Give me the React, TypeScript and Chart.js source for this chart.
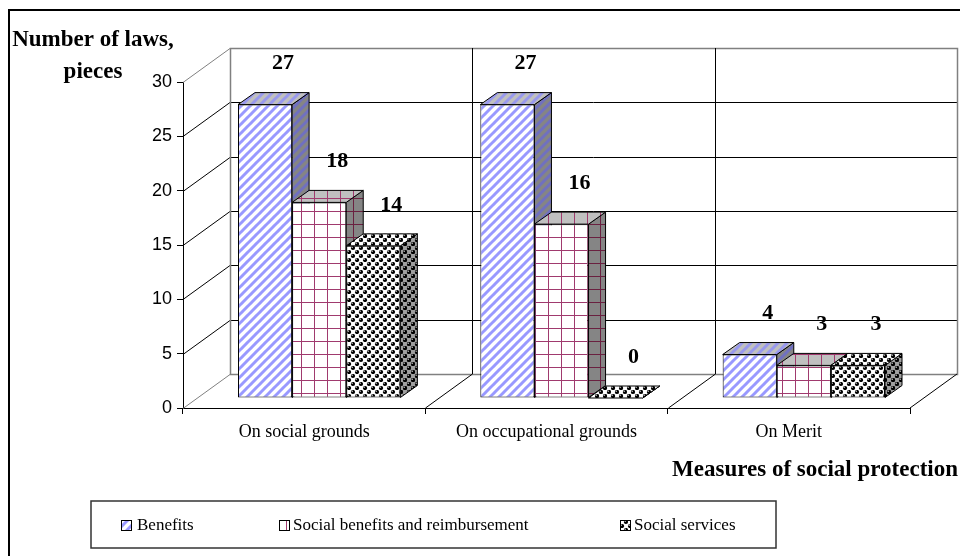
import React, { useEffect, useRef } from 'react';
import { Chart, registerables } from 'chart.js';
Chart.register(...registerables);

const categories = ['On social grounds', 'On occupational grounds', 'On Merit'];
const seriesNames = ['Benefits', 'Social benefits and reimbursement', 'Social services'];
const benefits = [27, 27, 4];
const socialBenefits = [18, 16, 3];
const socialServices = [14, 0, 3];
const yTickValues = [0, 5, 10, 15, 20, 25, 30];
const yTitleLines = ['Number of laws,', 'pieces'];
const xTitle = 'Measures of social protection';

const SERIF = '"Liberation Serif", "Times New Roman", serif';
const SANS = '"Liberation Sans", Arial, sans-serif';

const WALL_DX = 47, WALL_DY = -34;
const BAR_DX = 15, BAR_DY = -10;
const DEP_DX = 17, DEP_DY = -12;

function tile(size: number, draw: (g: CanvasRenderingContext2D, s: number) => void) {
  const c = document.createElement('canvas');
  c.width = size; c.height = size;
  const g = c.getContext('2d')!;
  draw(g, size);
  return c;
}

function stripePattern(ctx: CanvasRenderingContext2D, bg: string, fg: string) {
  const t = tile(9, (g, s) => {
    g.fillStyle = bg; g.fillRect(0, 0, s, s);
    g.strokeStyle = fg; g.lineWidth = 3;
    for (let k = -1; k <= 1; k++) {
      g.beginPath(); g.moveTo(k * s - 1, s + 1); g.lineTo(k * s + s + 1, -1); g.stroke();
    }
  });
  return ctx.createPattern(t, 'repeat')!;
}

function gridPattern(ctx: CanvasRenderingContext2D, bg: string, fg: string) {
  const t = tile(13, (g, s) => {
    g.fillStyle = bg; g.fillRect(0, 0, s, s);
    g.fillStyle = fg; g.fillRect(0, 0, s, 1); g.fillRect(0, 0, 1, s);
  });
  return ctx.createPattern(t, 'repeat')!;
}

function dotPattern(ctx: CanvasRenderingContext2D, bg: string, alt: string) {
  const t = tile(8, (g, s) => {
    g.fillStyle = bg; g.fillRect(0, 0, s, s);
    g.fillStyle = alt; g.fillRect(4, 0, 4, 4); g.fillRect(0, 4, 4, 4);
    const centers: number[][] = [];
    for (let a = -1; a <= 1; a++) for (let b = -1; b <= 1; b++) {
      centers.push([2 + a * s, 2 + b * s]);
      centers.push([6 + a * s, 6 + b * s]);
    }
    for (const [cx, cy] of centers) {
      g.beginPath(); g.arc(cx, cy, 2.1, 0, Math.PI * 2); g.fillStyle = '#000'; g.fill();
      g.beginPath(); g.arc(cx - 0.8, cy - 0.8, 0.7, 0, Math.PI * 2); g.fillStyle = '#ddd'; g.fill();
    }
  });
  return ctx.createPattern(t, 'repeat')!;
}

export default function App() {
  const ref = useRef<HTMLCanvasElement | null>(null);
  useEffect(() => {
    const canvas = ref.current!;
    const ctx = canvas.getContext('2d')!;
    const pats = [
      { front: stripePattern(ctx, '#ffffff', '#9999ff'), side: stripePattern(ctx, '#858585', '#7070c0'), top: stripePattern(ctx, '#c0c0c0', '#9999ee') },
      { front: gridPattern(ctx, '#ffffff', '#a03a6e'), side: gridPattern(ctx, '#858585', '#6a2040'), top: gridPattern(ctx, '#c0c0c0', '#a03a6e') },
      { front: dotPattern(ctx, '#ffffff', '#ffffff'), side: dotPattern(ctx, '#606060', '#a0a0a0'), top: dotPattern(ctx, '#c0c0c0', '#ffffff') },
    ];
    const seriesData = [benefits, socialBenefits, socialServices];

    const line = (x1: number, y1: number, x2: number, y2: number, color: string, w = 1) => {
      ctx.beginPath(); ctx.moveTo(x1, y1); ctx.lineTo(x2, y2);
      ctx.strokeStyle = color; ctx.lineWidth = w; ctx.stroke();
    };

    const scene = {
      id: 'scene3d',
      beforeDatasetsDraw(chart: any) {
        const xs = chart.scales.x, ys = chart.scales.y;
        const L = chart.chartArea.left, R = chart.chartArea.right;
        const B = ys.getPixelForValue(0), T = ys.getPixelForValue(30);
        for (const v of yTickValues) {
          const y = Math.round(ys.getPixelForValue(v)) + 0.5;
          const edge = v === 0 || v === 30;
          line(L, y, L + WALL_DX, y + WALL_DY, edge ? '#808080' : '#000');
          if (!edge) line(L + WALL_DX, y + WALL_DY, R + WALL_DX, y + WALL_DY, '#000');
        }
        ctx.strokeStyle = '#808080'; ctx.lineWidth = 1.5;
        ctx.strokeRect(L + WALL_DX + 0.5, Math.round(T) + WALL_DY + 0.5, R - L, B - T);
        for (let i = 1; i < categories.length; i++) {
          const xb = Math.round((xs.getPixelForValue(i - 1) + xs.getPixelForValue(i)) / 2) + 0.5;
          line(xb + WALL_DX, B + WALL_DY, xb + WALL_DX, T + WALL_DY, '#000');
          line(xb, B, xb + WALL_DX, B + WALL_DY, '#000');
        }
        line(R, B, R + WALL_DX, B + WALL_DY, '#000');

        ctx.save();
        ctx.translate(BAR_DX, BAR_DY);
        for (let d = 0; d < chart.data.datasets.length; d++) {
          const meta = chart.getDatasetMeta(d);
          const p = pats[d];
          for (const el of meta.data) {
            const { x, y, base, width } = el.getProps(['x', 'y', 'base', 'width'], true);
            const x0 = x - width / 2, x1 = x + width / 2;
            ctx.lineWidth = 1; ctx.strokeStyle = '#000';
            ctx.beginPath();
            ctx.moveTo(x1, y); ctx.lineTo(x1 + DEP_DX, y + DEP_DY); ctx.lineTo(x1 + DEP_DX, base + DEP_DY); ctx.lineTo(x1, base); ctx.closePath();
            ctx.fillStyle = p.side; ctx.fill(); ctx.stroke();
            ctx.beginPath();
            ctx.moveTo(x0, y); ctx.lineTo(x0 + DEP_DX, y + DEP_DY); ctx.lineTo(x1 + DEP_DX, y + DEP_DY); ctx.lineTo(x1, y); ctx.closePath();
            ctx.fillStyle = p.top; ctx.fill(); ctx.stroke();
          }
          meta.controller.draw();
        }
        ctx.fillStyle = '#000';
        ctx.font = `bold 22px ${SERIF}`;
        ctx.textAlign = 'center'; ctx.textBaseline = 'middle';
        for (let d = 0; d < chart.data.datasets.length; d++) {
          const meta = chart.getDatasetMeta(d);
          meta.data.forEach((el: any, i: number) => {
            const { x, y } = el.getProps(['x', 'y'], true);
            ctx.fillText(String(seriesData[d][i]), x + 18, y - 41);
          });
        }
        ctx.restore();
        return false;
      },
      afterDraw() {
        ctx.save();
        ctx.strokeStyle = '#000'; ctx.lineWidth = 2;
        ctx.strokeRect(9, 10, 980, 600);
        ctx.fillStyle = '#000';
        ctx.font = `bold 23px ${SERIF}`;
        ctx.textAlign = 'center'; ctx.textBaseline = 'middle';
        ctx.fillText(yTitleLines[0], 93, 40);
        ctx.fillText(yTitleLines[1], 93, 72);
        ctx.textAlign = 'right';
        ctx.fillText(xTitle, 958, 470);
        ctx.lineWidth = 1.5; ctx.strokeStyle = '#333';
        ctx.strokeRect(91, 501, 685, 47);
        ctx.font = `17px ${SERIF}`;
        ctx.textAlign = 'left';
        const items = [[121, 137], [279, 293], [620, 634]];
        items.forEach(([ix, tx], i) => {
          ctx.fillStyle = pats[i].front;
          ctx.fillRect(ix, 520, 10, 10);
          ctx.lineWidth = 1; ctx.strokeStyle = '#000';
          ctx.strokeRect(ix + 0.5, 520.5, 10, 10);
          ctx.fillStyle = '#000';
          ctx.fillText(seriesNames[i], tx, 526);
        });
        ctx.restore();
      },
    };

    const chart = new Chart(canvas, {
      type: 'bar',
      data: {
        labels: categories,
        datasets: [benefits, socialBenefits, socialServices].map((data, i) => ({
          label: seriesNames[i],
          data,
          backgroundColor: pats[i].front as any,
          borderColor: '#000',
          borderWidth: 1,
          borderSkipped: false,
          categoryPercentage: 0.67,
          barPercentage: 1,
        })),
      },
      options: {
        responsive: false,
        animation: false,
        layout: { padding: { left: 0, right: 50, top: 82, bottom: 0 } },
        plugins: { legend: { display: false }, tooltip: { enabled: false } },
        scales: {
          x: {
            offset: true,
            grid: { offset: true, drawOnChartArea: false, drawTicks: true, tickLength: 6, color: '#000' },
            border: { display: true, color: '#000', width: 1 },
            ticks: { color: '#000', font: { family: SERIF, size: 18 }, padding: 7, maxRotation: 0 },
            afterFit: (s: any) => { s.height = 148; },
          },
          y: {
            min: 0, max: 30,
            afterBuildTicks: (s: any) => { s.ticks = yTickValues.map((v) => ({ value: v })); },
            grid: { drawOnChartArea: false, drawTicks: true, tickLength: 6, color: '#000' },
            border: { display: true, color: '#000', width: 1 },
            ticks: { color: '#000', font: { family: SANS, size: 18 }, padding: 5 },
            afterFit: (s: any) => { s.width = 183; },
          },
        },
      },
      plugins: [scene],
    });
    return () => chart.destroy();
  }, []);
  return (
    <div style={{ position: 'absolute', left: 0, top: 0, width: 960, height: 556, background: '#fff' }}>
      <canvas ref={ref} width={960} height={556} style={{ display: 'block' }} />
    </div>
  );
}
